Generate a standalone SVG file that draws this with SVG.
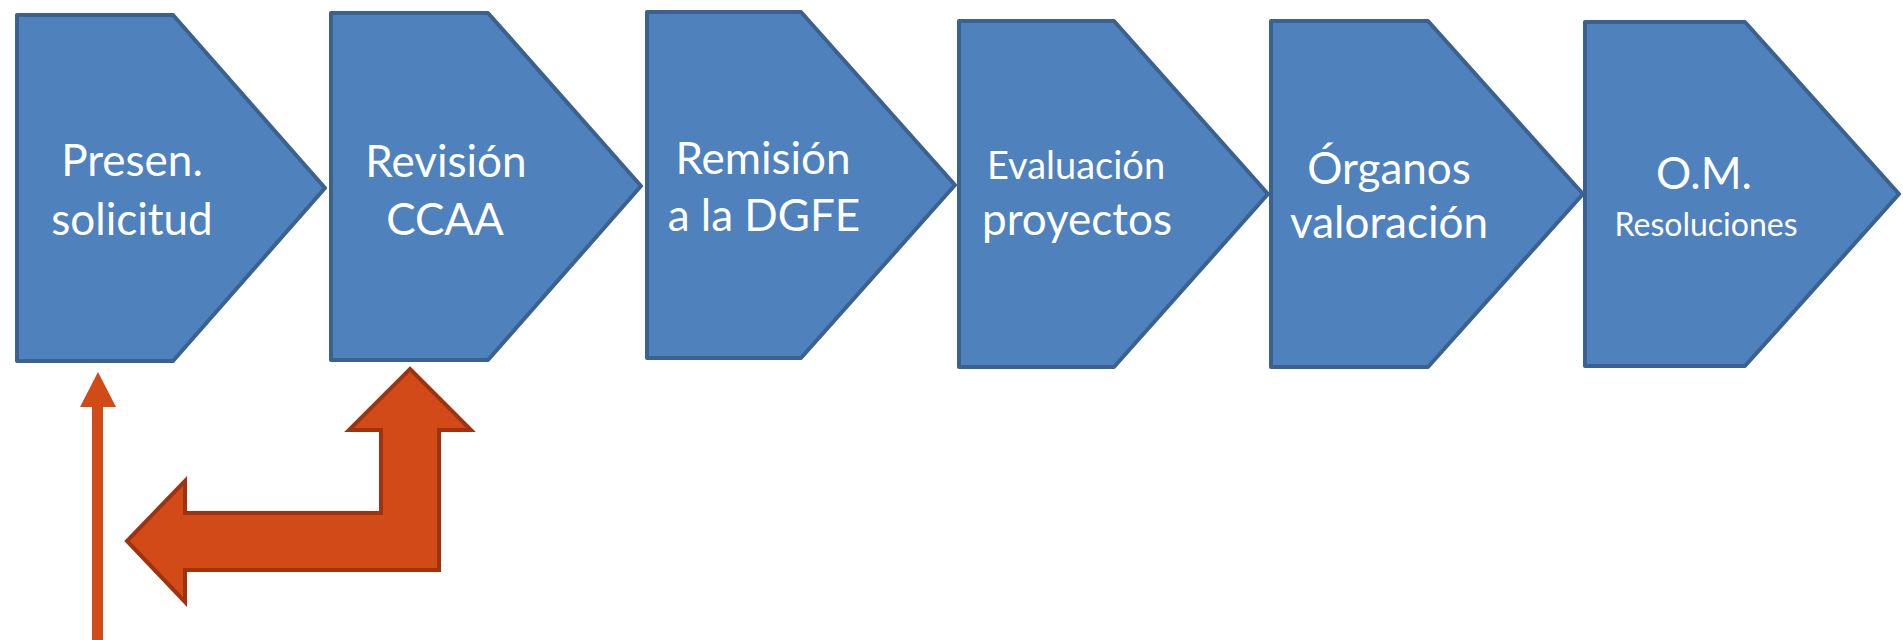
<svg xmlns="http://www.w3.org/2000/svg" width="1903" height="640" viewBox="0 0 1903 640">
<style>
.chev{fill:#4F81BD;stroke:#3A6190;stroke-width:4;stroke-linejoin:round}
.t{font-family:Lato,"Open Sans","Liberation Sans",sans-serif;fill:#FFFFFF;text-anchor:middle}
.big{font-size:44px}
.mid{font-size:38px}
.sm{font-size:32px}
.red{fill:#D24A17}
.bent{fill:#D24A17;stroke:#A0330F;stroke-width:4;stroke-linejoin:miter}
</style>
<rect width="1903" height="640" fill="#FFFFFF"/>
<g id="node1">
<path class="chev" d="M17,15 L173,15 L325,188 L173,361 L17,361 Z"/>
<text class="t big" x="132" y="176">Presen.</text>
<text class="t big" x="132" y="235">solicitud</text>
</g>
<g id="node2">
<path class="chev" d="M331,13 L488,13 L641,186 L488,360 L331,360 Z"/>
<text class="t big" x="446" y="177">Revisión</text>
<text class="t big" x="445" y="235">CCAA</text>
</g>
<g id="node3">
<path class="chev" d="M647,12 L801,12 L955,185 L801,358 L647,358 Z"/>
<text class="t big" x="763" y="174">Remisión</text>
<text class="t big" x="764" y="231">a la DGFE</text>
</g>
<g id="node4">
<path class="chev" d="M959,21 L1114,21 L1268,194 L1114,367 L959,367 Z"/>
<text class="t mid" x="1076" y="179">Evaluación</text>
<text class="t big" x="1077" y="235">proyectos</text>
</g>
<g id="node5">
<path class="chev" d="M1271,21 L1428,21 L1583,194 L1428,367 L1271,367 Z"/>
<text class="t big" x="1389" y="184">Órganos</text>
<text class="t big" x="1389" y="238">valoración</text>
</g>
<g id="node6">
<path class="chev" d="M1585,22 L1745,22 L1899,194 L1745,366 L1585,366 Z"/>
<text class="t big" x="1704" y="189">O.M.</text>
<text class="t sm" x="1706" y="236">Resoluciones</text>
</g>
<g id="connectors">
<path class="red" d="M98,372 L116,407 L103,407 L103,640 L92,640 L92,407 L80,407 Z"/>
<path class="bent" d="M410,369 L471,430 L439,430 L439,570 L185,570 L185,602 L127,541 L185,481 L185,513 L381,513 L381,430 L349,430 Z"/>
</g>
</svg>
